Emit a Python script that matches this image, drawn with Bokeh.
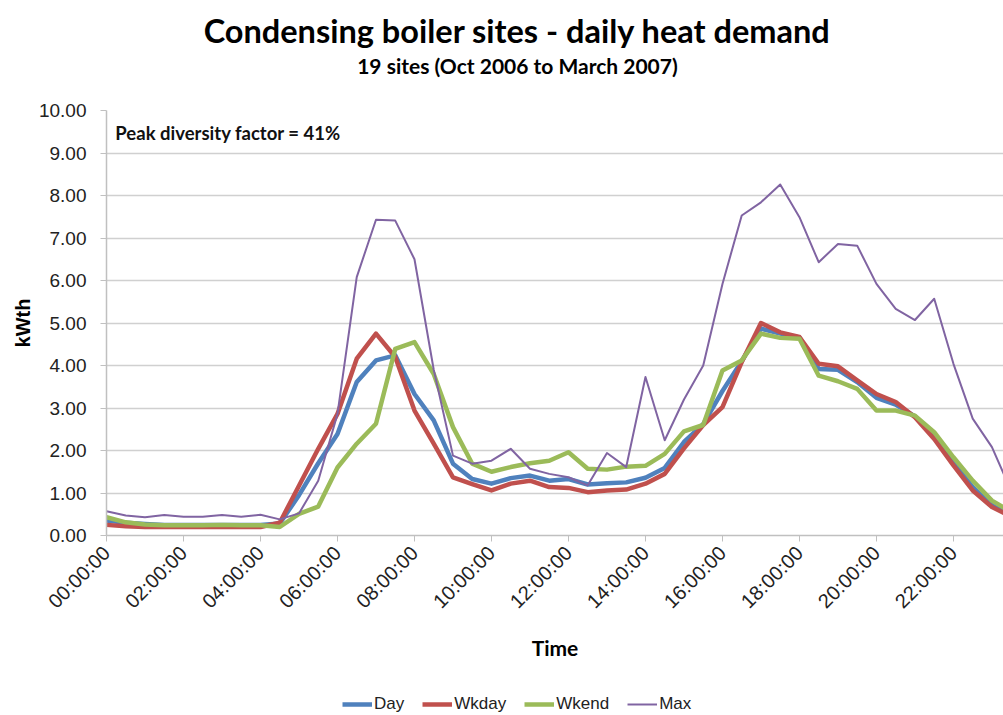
import math
from bokeh.plotting import figure
from bokeh.layouts import column
from bokeh.models import (FixedTicker, Legend, LegendItem, Label, Range1d,
                          NumeralTickFormatter, ColumnDataSource)
from bokeh.embed import file_html
from bokeh.resources import INLINE

# ---------------- data ----------------
times = ["00:00", "00:30", "01:00", "01:30", "02:00", "02:30", "03:00", "03:30",
         "04:00", "04:30", "05:00", "05:30", "06:00", "06:30", "07:00", "07:30",
         "08:00", "08:30", "09:00", "09:30", "10:00", "10:30", "11:00", "11:30",
         "12:00", "12:30", "13:00", "13:30", "14:00", "14:30", "15:00", "15:30",
         "16:00", "16:30", "17:00", "17:30", "18:00", "18:30", "19:00", "19:30",
         "20:00", "20:30", "21:00", "21:30", "22:00", "22:30", "23:00", "23:30"]

day = [0.35, 0.30, 0.27, 0.25, 0.25, 0.25, 0.25, 0.25, 0.25, 0.28, 0.95, 1.70,
       2.39, 3.61, 4.12, 4.24, 3.33, 2.71, 1.69, 1.33, 1.22, 1.35, 1.41, 1.29,
       1.33, 1.20, 1.23, 1.25, 1.36, 1.59, 2.20, 2.62, 3.40, 4.10, 4.87, 4.75,
       4.66, 3.92, 3.90, 3.61, 3.24, 3.08, 2.80, 2.33, 1.72, 1.14, 0.71, 0.47]

wkday = [0.25, 0.22, 0.20, 0.20, 0.20, 0.20, 0.20, 0.20, 0.20, 0.30, 1.17, 2.04,
         2.86, 4.16, 4.75, 4.20, 2.94, 2.16, 1.37, 1.21, 1.06, 1.22, 1.29, 1.14,
         1.12, 1.02, 1.06, 1.08, 1.22, 1.45, 2.05, 2.60, 3.02, 4.08, 5.00, 4.78,
         4.67, 4.04, 3.98, 3.65, 3.33, 3.14, 2.78, 2.27, 1.65, 1.06, 0.67, 0.45]

wkend = [0.43, 0.31, 0.26, 0.24, 0.24, 0.24, 0.25, 0.24, 0.24, 0.20, 0.51, 0.68,
         1.60, 2.16, 2.63, 4.39, 4.55, 3.80, 2.55, 1.69, 1.50, 1.61, 1.70, 1.76,
         1.96, 1.57, 1.55, 1.62, 1.64, 1.92, 2.45, 2.60, 3.88, 4.12, 4.75, 4.65,
         4.63, 3.76, 3.63, 3.45, 2.94, 2.94, 2.82, 2.43, 1.84, 1.29, 0.82, 0.55]

maxv = [0.57, 0.47, 0.43, 0.48, 0.44, 0.44, 0.48, 0.44, 0.49, 0.38, 0.52, 1.29,
        2.86, 6.08, 7.43, 7.41, 6.50, 3.90, 1.88, 1.69, 1.76, 2.04, 1.57, 1.45,
        1.37, 1.18, 1.94, 1.61, 3.73, 2.24, 3.20, 4.00, 5.92, 7.53, 7.84, 8.26,
        7.49, 6.43, 6.86, 6.82, 5.92, 5.33, 5.07, 5.57, 4.04, 2.75, 2.08, 1.05]

tick_hours = [0, 2, 4, 6, 8, 10, 12, 14, 16, 18, 20, 22]
tick_labels = ["00:00:00", "02:00:00", "04:00:00", "06:00:00", "08:00:00", "10:00:00",
               "12:00:00", "14:00:00", "16:00:00", "18:00:00", "20:00:00", "22:00:00"]
y_ticks = [0, 1, 2, 3, 4, 5, 6, 7, 8, 9, 10]

series_names = ["Day", "Wkday", "Wkend", "Max"]
series_colors = ["#4F81BD", "#C0504D", "#9BBB59", "#8064A2"]
series_widths = [4.5, 4.5, 4.5, 2]

title_text = "Condensing boiler sites - daily heat demand"
subtitle_text = "19 sites (Oct 2006 to March 2007)"
note_text = "Peak diversity factor = 41%"

hours = [int(t[:2]) + int(t[3:]) / 60.0 for t in times]
source = ColumnDataSource(dict(x=hours, Day=day, Wkday=wkday, Wkend=wkend, Max=maxv))

W = 1003
X_END = 23.3

def bare(fig):
    fig.outline_line_color = None
    fig.xgrid.visible = False
    fig.ygrid.visible = False
    fig.background_fill_color = "white"
    fig.border_fill_color = "white"

# ---------------- header strip (titles) ----------------
hd = figure(width=W, height=100, output_backend="svg", toolbar_location=None,
            x_range=Range1d(0, X_END), y_range=Range1d(0, 1),
            x_axis_location=None, y_axis_location=None, min_border=0)
bare(hd)
hd.add_layout(Label(x=10.675, y=0.70, text=title_text, text_font="Lato",
                    text_font_style="bold", text_font_size="32.5px",
                    text_align="center", text_baseline="middle", text_color="#000000"))
hd.add_layout(Label(x=10.675, y=0.35, text=subtitle_text, text_font="Lato",
                    text_font_style="bold", text_font_size="21px",
                    text_align="center", text_baseline="middle", text_color="#000000"))

# ---------------- main figure ----------------
p = figure(width=W, height=592, output_backend="svg", toolbar_location=None,
           x_range=Range1d(0, X_END), y_range=Range1d(0, 10),
           min_border_left=106, min_border_right=0, min_border_top=10,
           min_border_bottom=157)
bare(p)

for name, col, w in zip(series_names, series_colors, series_widths):
    p.line("x", name, source=source, line_color=col, line_width=w, line_join="round")

# axes
p.xaxis.ticker = FixedTicker(ticks=tick_hours)
p.xaxis.major_label_overrides = {h: lab for h, lab in zip(tick_hours, tick_labels)}
p.xaxis.major_label_orientation = math.pi / 4
p.xaxis.major_label_text_font = "Liberation Sans"
p.xaxis.major_label_text_font_size = "20px"
p.xaxis.major_label_text_color = "#222222"
p.xaxis.major_tick_in = 0
p.xaxis.major_tick_out = 6
p.xaxis.minor_tick_out = 0
p.xaxis.minor_tick_in = 0
p.xaxis.axis_line_color = "#c0c0c0"
p.xaxis.major_tick_line_color = "#c0c0c0"
p.xaxis.axis_line_width = 1.5
p.xaxis.major_label_standoff = 8
p.xaxis.axis_label = "Time"
p.xaxis.axis_label_text_font = "Lato"
p.xaxis.axis_label_text_font_style = "bold"
p.xaxis.axis_label_text_font_size = "21px"
p.xaxis.axis_label_text_color = "#000000"
p.xaxis.axis_label_standoff = 12

p.yaxis.ticker = FixedTicker(ticks=y_ticks)
p.yaxis.formatter = NumeralTickFormatter(format="0.00")
p.yaxis.major_label_text_font = "Liberation Sans"
p.yaxis.major_label_text_font_size = "19px"
p.yaxis.major_label_text_color = "#222222"
p.yaxis.major_tick_in = 0
p.yaxis.major_tick_out = 6
p.yaxis.minor_tick_out = 0
p.yaxis.minor_tick_in = 0
p.yaxis.axis_line_color = "#c0c0c0"
p.yaxis.major_tick_line_color = "#c0c0c0"
p.yaxis.axis_line_width = 1.5
p.yaxis.major_label_standoff = 14
p.yaxis.axis_label = "kWth"
p.yaxis.axis_label_text_font = "Liberation Sans"
p.yaxis.axis_label_text_font_style = "bold"
p.yaxis.axis_label_text_font_size = "20px"
p.yaxis.axis_label_text_color = "#000000"
p.yaxis.axis_label_standoff = 2

p.ygrid.visible = True
p.ygrid.grid_line_color = "#d0d0d0"
p.ygrid.grid_line_width = 1.5

p.add_layout(Label(x=0.23, y=9.46, text=note_text, text_font="Lato",
                   text_font_style="bold", text_font_size="18.5px",
                   text_baseline="middle", text_color="#111111"))

# ---------------- legend strip (same series, drawn out of view; only the key shows) ----------------
lg = figure(width=W, height=23, output_backend="svg", toolbar_location=None,
            x_range=Range1d(0, X_END), y_range=Range1d(50, 51),
            x_axis_location=None, y_axis_location=None, min_border=0)
bare(lg)
items = []
for name, col, w in zip(series_names, series_colors, series_widths):
    r = lg.line("x", name, source=source, line_color=col, line_width=w)
    items.append(LegendItem(label=name, renderers=[r]))
legend = Legend(items=items, orientation="horizontal", location=(236, 1),
                label_text_font="Liberation Sans", label_text_font_size="17px",
                glyph_width=30, glyph_height=16, label_standoff=2, spacing=18,
                border_line_color=None, background_fill_alpha=0,
                padding=2, margin=0, label_text_color="#222222")
lg.add_layout(legend)

layout = column(hd, p, lg, spacing=0)
open("out.html", "w").write(file_html(layout, INLINE))
